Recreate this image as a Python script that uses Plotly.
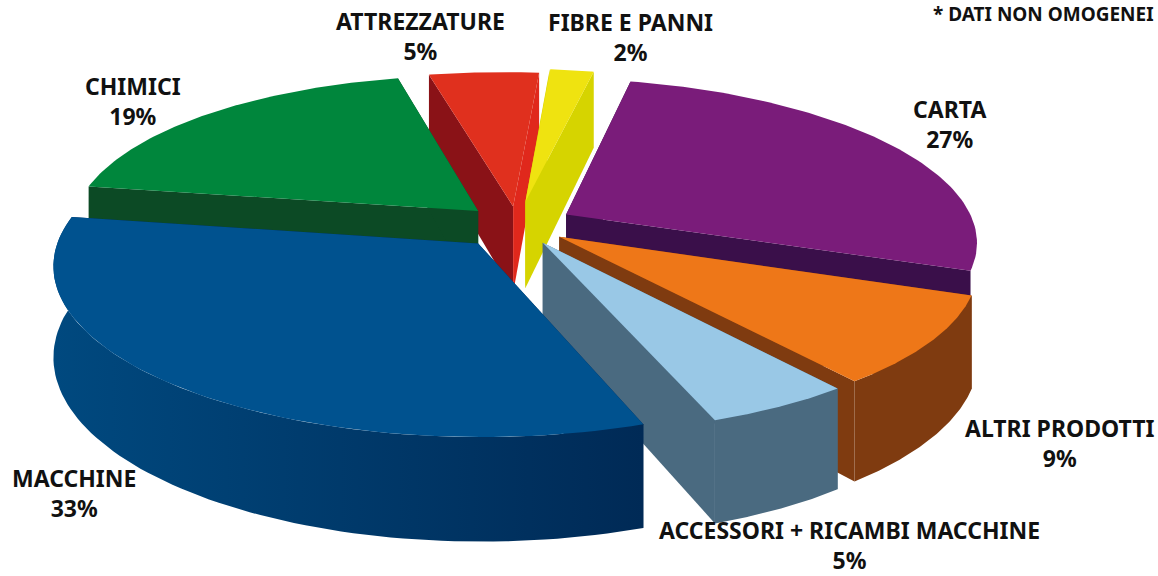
import numpy as np
import plotly.graph_objects as go

# Data, clockwise from the start angle
categories = ["FIBRE E PANNI", "CARTA", "ALTRI PRODOTTI",
              "ACCESSORI + RICAMBI MACCHINE", "MACCHINE", "CHIMICI", "ATTREZZATURE"]
values = [2, 27, 9, 5, 33, 19, 5]
pulls = [0.15, 0.14, 0.125, 0.125, 0.15, 0.13, 0.12]
radii = [1.0, 1.0, 1.0, 1.0, 1.015, 1.0, 1.0]

top_colors = ["#EFE310", "#7A1C7A", "#EE7718", "#99C8E6", "#00528F", "#00863C", "#E0301E"]
start_cut_colors = ["#D6D400", "#3A0F4A", "#7F3B10", "#4A6A80", "#002A56", "#0C4A25", "#8A1217"]
end_cut_colors = ["#D6D400", "#3A0F4A", "#7F3B10", "#4A6A80", "#002A56", "#0C4A25", "#E0281C"]
rim_colors = [None, None, ["#7F3B10", "#7F3B10"],
              ["#4A6A80", "#4A6A80"], ["#00497F", "#002A56"], None, None]
paint_order = [6, 0, 5, 1, 2, 3, 4]

# Label block centres: (category index, x, y)
label_pos = [(0, 630, 37), (1, 949, 124), (2, 1060, 443),
             (3, 849, 545), (4, 74, 493), (5, 133, 101), (6, 420, 36)]

START_ANGLE = 5.8
CX, CY = 517.0, 225.0
RX, RY = 408.0, 158.0
PERSP = 0.14
SKEW = 10.0
DEPTH = 88.0


def project(u, v, z=0.0):
    s = 1.0 / (1.0 - PERSP * v)
    return CX + RX * u * s + SKEW * v, CY + RY * v * s + z * s


def add_poly(fig, xs, ys, color=None, gradient=None):
    kw = dict(x=list(xs), y=list(ys), mode="lines", fill="toself",
              line=dict(width=0), hoverinfo="skip", showlegend=False)
    if gradient:
        kw["fillgradient"] = dict(type="horizontal",
                                  colorscale=[[0, gradient[0]], [1, gradient[1]]])
    else:
        kw["fillcolor"] = color
    fig.add_trace(go.Scatter(**kw))


fig = go.Figure()
total = sum(values)
edges = START_ANGLE + np.concatenate([[0], np.cumsum(values)]) * 360.0 / total

for i in paint_order:
    a0, a1 = np.radians(edges[i]), np.radians(edges[i + 1])
    mid = (a0 + a1) / 2
    ou, ov = pulls[i] * np.sin(mid), -pulls[i] * np.cos(mid)
    th = np.linspace(a0, a1, 80)
    ru, rv = ou + radii[i] * np.sin(th), ov - radii[i] * np.cos(th)

    xt, yt = project(ru, rv)
    xw, yw = project(ru, rv, DEPTH)

    # cut faces
    for k, col in ((0, start_cut_colors[i]), (-1, end_cut_colors[i])):
        xa, ya = project(ou, ov)
        xb, yb = project(ru[k], rv[k])
        xc, yc = project(ru[k], rv[k], DEPTH)
        xd, yd = project(ou, ov, DEPTH)
        add_poly(fig, [xa, xb, xc, xd, xa], [ya, yb, yc, yd, ya], col)

    # outer wall (front-facing slices only)
    if rim_colors[i]:
        add_poly(fig, np.r_[xt, xw[::-1]], np.r_[yt, yw[::-1]], gradient=rim_colors[i])

    # top face
    xo, yo = project(ou, ov)
    add_poly(fig, np.r_[xo, xt, xo], np.r_[yo, yt, yo], top_colors[i])

FONT = dict(family="Noto Sans", size=23, color="#111111", weight=700)
for i, x, y in label_pos:
    fig.add_annotation(x=x, y=y, xref="x", yref="y", showarrow=False, align="center",
                       text=f"{categories[i]}<br>{values[i]}%", font=FONT,
                       xanchor="center", yanchor="middle")
fig.add_annotation(x=931, y=14, xref="x", yref="y", showarrow=False,
                   text="* DATI NON OMOGENEI", xanchor="left", yanchor="middle",
                   font=dict(family="Noto Sans", size=19, color="#111111", weight=700))

fig.update_xaxes(range=[0, 1158], visible=False, fixedrange=True)
fig.update_yaxes(range=[576, 0], visible=False, fixedrange=True)
fig.update_layout(width=1158, height=576, margin=dict(l=0, r=0, t=0, b=0),
                  paper_bgcolor="white", plot_bgcolor="white")
fig.write_html("out.html", config={"displayModeBar": False},
               post_script="document.body.style.margin='0';document.documentElement.style.overflow='hidden';")
